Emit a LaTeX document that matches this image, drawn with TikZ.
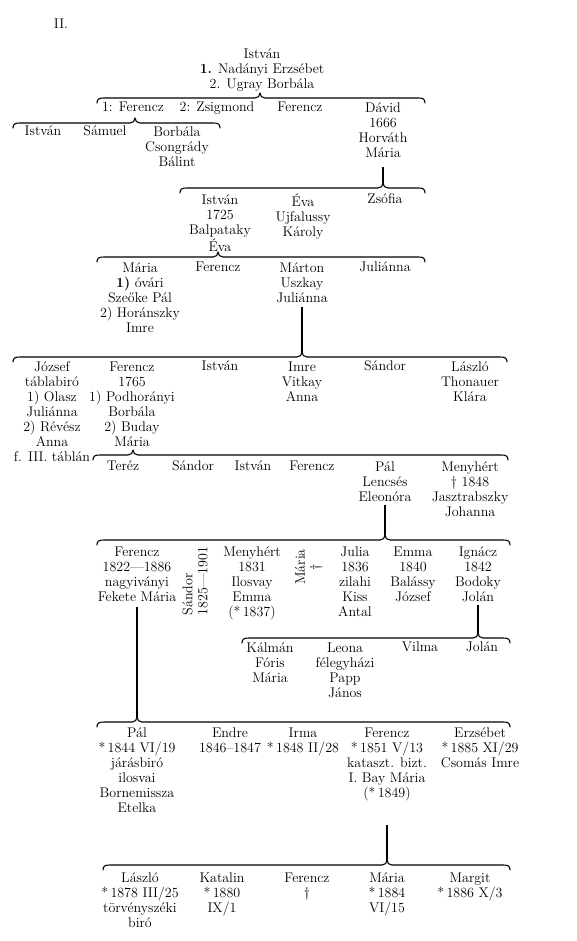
\documentclass[tikz,border=0pt]{standalone}
\usetikzlibrary{calc}
\newcommand\gfont{\fontsize{14}{15}\selectfont}
\newcommand\ct[1]{\begin{tabular}[t]{@{}c@{}}#1\end{tabular}}
\newcommand\bs{{*}\,}
\tikzset{
  pn/.style={anchor=north, inner sep=0pt, yshift=6.3pt, font=\gfont},
  rn/.style={rotate=90, inner sep=0pt, font=\gfont},
  brc/.style={line width=1.1pt, line join=round, line cap=round},
  ln/.style={line width=1.3pt}
}
% brace: name, x1, xc, x2, y
\newcommand\gbrace[5]{%
  \draw[brc] ({#2},{#5+5}) .. controls ({#2},{#5+1}) and ({#2+2},{#5}) .. ({#2+7},{#5})
    -- ({#3-5},{#5}) .. controls ({#3-2},{#5}) and ({#3},{#5-2}) .. ({#3},{#5-5})
    .. controls ({#3},{#5-2}) and ({#3+2},{#5}) .. ({#3+5},{#5})
    -- ({#4-7},{#5}) .. controls ({#4-2},{#5}) and ({#4},{#5+1}) .. ({#4},{#5+5});
  \coordinate (#1) at ({#3},{#5-5});}
\begin{document}
\begin{tikzpicture}[x=1pt,y=-1pt]
\useasboundingbox (0,0) rectangle (576,941);
\fill[white] (0,0) rectangle (576,941);

\node[pn] (tab) at (61,25) {II.};

% generation 1
\node[pn] (g1) at (262,54) {\ct{István\\\textbf{1.} Nadányi Erzsébet\\2. Ugray Borbála}};
\gbrace{b1}{97}{260}{425}{98}

% generation 2
\node[pn] (f1) at (133,108) {1: Ferencz};
\node[pn] (zs) at (217,108) {2: Zsigmond};
\node[pn] (fer2) at (300,108) {Ferencz};
\node[pn] (david) at (383,108) {\ct{Dávid\\1666\\Horváth\\Mária}};
\gbrace{b2}{13}{135}{220}{123}

\node[pn] (ist3) at (43,132) {István};
\node[pn] (sam) at (105,132) {Sámuel};
\node[pn] (borb) at (177,132) {\ct{Borbála\\Csongrády\\Bálint}};

\coordinate (d1) at (383,167);
\gbrace{b3}{180}{383}{425}{188}
\draw[ln] (d1) -- (b3);

% generation 3
\node[pn] (ist4) at (220,200) {\ct{István\\1725\\Balpataky\\Éva}};
\node[pn] (eva) at (303,200) {\ct{Éva\\Ujfalussy\\Károly}};
\node[pn] (zsof) at (385,200) {Zsófia};
\gbrace{b4}{97}{218}{425}{257}

% generation 4
\node[pn] (mar4) at (140,268) {\ct{Mária\\\textbf{1)} óvári\\Szeőke Pál\\2) Horánszky\\Imre}};
\node[pn] (fer4) at (218,268) {Ferencz};
\node[pn] (marton) at (302,268) {\ct{Márton\\Uszkay\\Juliánna}};
\node[pn] (jul4) at (385,268) {Juliánna};
\coordinate (d2) at (302,307);
\gbrace{b5}{13}{302}{507}{357}
\draw[ln] (d2) -- (b5);

% generation 5
\node[pn] (jozsef) at (52,367) {\ct{József\\táblabiró\\1) Olasz\\Juliánna\\2) Révész\\Anna\\f. III. táblán}};
\node[pn] (fer5) at (132,367) {\ct{Ferencz\\1765\\1) Podhorányi\\Borbála\\2) Buday\\Mária}};
\node[pn] (ist5) at (220,367) {István};
\node[pn] (imre5) at (302,367) {\ct{Imre\\Vitkay\\Anna}};
\node[pn] (san5) at (385,367) {Sándor};
\node[pn] (las5) at (470,367) {\ct{László\\Thonauer\\Klára}};
\gbrace{b6}{93}{133}{508}{455}

% generation 6
\node[pn] (terez) at (123,467) {Teréz};
\node[pn] (san6) at (193,467) {Sándor};
\node[pn] (ist6) at (253,467) {István};
\node[pn] (fer6) at (312,467) {Ferencz};
\node[pn] (pal6) at (385,467) {\ct{Pál\\Lencsés\\Eleonóra}};
\node[pn] (meny6) at (470,467) {\ct{Menyhért\\\textdagger{} 1848\\Jasztrabszky\\Johanna}};
\coordinate (d3) at (385,505);
\gbrace{b7}{97}{385}{510}{540}
\draw[ln] (d3) -- (b7);

% generation 7
\node[pn] (fer7) at (137,552) {\ct{Ferencz\\1822\textemdash1886\\nagyiványi\\Fekete Mária}};
\node[rn, align=left] (san7) at (195,581) {Sándor\\1825\textemdash1901};
\node[pn] (meny7) at (252,552) {\ct{Menyhért\\1831\\Ilosvay\\Emma\\(\bs1837)}};
\node[rn, align=center] (mar7) at (309,567) {Mária\\\textdagger};
\node[pn] (julia) at (355,552) {\ct{Julia\\1836\\zilahi\\Kiss\\Antal}};
\node[pn] (emma) at (413,552) {\ct{Emma\\1840\\Balássy\\József}};
\node[pn] (ign) at (478,552) {\ct{Ignácz\\1842\\Bodoky\\Jolán}};
\coordinate (d4) at (478,605);
\gbrace{b8}{242}{478}{510}{638}
\draw[ln] (d4) -- (b8);

% generation 8 (Ignácz)
\node[pn] (kalman) at (270,648) {\ct{Kálmán\\Fóris\\Mária}};
\node[pn] (leona) at (345,648) {\ct{Leona\\félegyházi\\Papp\\János}};
\node[pn] (vilma) at (420,648) {Vilma};
\node[pn] (jolan8) at (482,648) {Jolán};

\coordinate (d5) at (137,607);
\gbrace{b9}{97}{137}{510}{722}
\draw[ln] (d5) -- (b9);

% generation 8 (Ferencz)
\node[pn] (pal9) at (137,733) {\ct{Pál\\\bs1844 VI/19\\járásbiró\\ilosvai\\Bornemissza\\Etelka}};
\node[pn] (endre) at (230,733) {\ct{Endre\\1846--1847}};
\node[pn] (irma) at (303,733) {\ct{Irma\\\bs1848 II/28}};
\node[pn] (fer9) at (387,733) {\ct{Ferencz\\\bs1851 V/13\\kataszt. bizt.\\I. Bay Mária\\(\bs1849)}};
\node[pn] (erzs) at (480,733) {\ct{Erzsébet\\\bs1885 XI/29\\Csomás Imre}};
\coordinate (d6) at (387,825);
\gbrace{b10}{103}{387}{510}{865}
\draw[ln] (d6) -- (b10);

% generation 9
\node[pn] (las10) at (140,878) {\ct{László\\\bs1878 III/25\\törvényszéki\\biró}};
\node[pn] (kat) at (222,878) {\ct{Katalin\\\bs1880\\IX/1}};
\node[pn] (fer10) at (307,878) {\ct{Ferencz\\\textdagger}};
\node[pn] (mar10) at (387,878) {\ct{Mária\\\bs1884\\VI/15}};
\node[pn] (marg) at (470,878) {\ct{Margit\\\bs1886 X/3}};
\end{tikzpicture}
\end{document}
